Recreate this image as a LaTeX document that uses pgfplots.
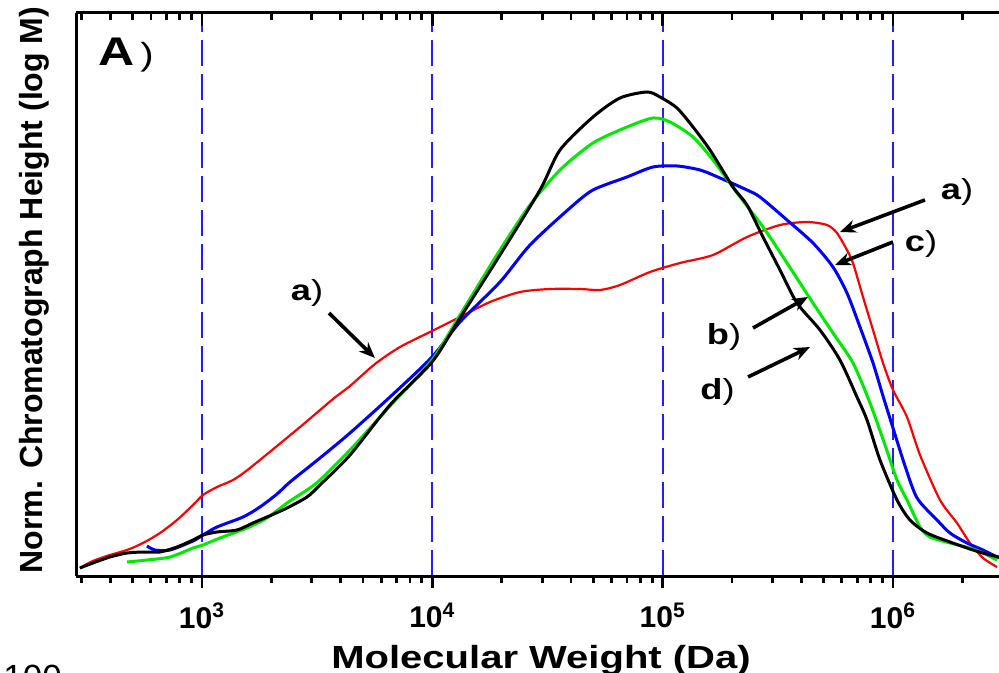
\documentclass[border=0pt]{standalone}
\usepackage{fontspec}
\setmainfont{Liberation Sans}
\newfontfamily\widefont{Liberation Sans}[FakeStretch=1.25]
\usepackage{pgfplots}
\pgfplotsset{compat=1.18}
\usetikzlibrary{arrows.meta}

\definecolor{gridblue}{RGB}{30,30,255}
\definecolor{cred}{RGB}{255,0,0}
\definecolor{cgreen}{RGB}{0,235,0}
\definecolor{cblue}{RGB}{0,0,255}

\tikzset{
  arr/.style={line width=1.8pt, -{Stealth[length=8pt,width=6.5pt]}},
  lab/.style={anchor=base, font=\fontsize{14.5}{17}\widefont},
}

\begin{document}
\begin{tikzpicture}
% bottom axis, labels, curves
\begin{axis}[
    scale only axis, width=461.5pt, height=281.5pt,
    at={(0,0)}, anchor=south west,
    xmode=log, xmin=283.8, xmax=2.886e6, ymin=0, ymax=563,
    axis x line*=bottom, axis y line*=left,
    axis line style={line width=1.5pt,-},
    ytick=\empty,
    xtick={1e3,1e4,1e5,1e6},
    minor xtick={300,400,500,600,700,800,900,
      2000,3000,4000,5000,6000,7000,8000,9000,
      2e4,3e4,4e4,5e4,6e4,7e4,8e4,9e4,
      2e5,3e5,4e5,5e5,6e5,7e5,8e5,9e5,2e6},
    major tick length=6pt, minor tick length=3.5pt,
    tick style={black, line width=1.4pt},
    tick align=outside,
    xticklabels={\textbf{10}\textsuperscript{\textbf{3}},\textbf{10}\textsuperscript{\textbf{4}},
                 \textbf{10}\textsuperscript{\textbf{5}},\textbf{10}\textsuperscript{\textbf{6}}},
    xticklabel style={font=\fontsize{15}{18}\selectfont, yshift=-4pt},
    xmajorgrids,
    major grid style={gridblue, line width=1pt, dash pattern=on 13pt off 4pt},
    xlabel={\bfseries Molecular Weight (Da)},
    xlabel style={font=\fontsize{16}{19}\widefont, at={(axis description cs:0.5038,-0.1634)}, anchor=base},
    ylabel={\bfseries Norm. Chromatograph Height (log M)},
    ylabel style={font=\fontsize{16}{19}\selectfont, at={(axis description cs:-0.0358,0.508)}, anchor=base},
    every axis plot/.append style={no markers, smooth, tension=0.45, line join=round},
  ]
  % a) red
  \addplot[cred, line width=1.1pt] coordinates {
    (295,8) (336,15) (398.6,21) (472.5,26) (554.3,33) (657.3,43) (778.9,56)
    (914,71) (1010,81) (1162,89) (1363,96) (1616,108) (2665,149) (3705,177)
    (4391,190) (5638,212) (7237,229) (9968,245) (13190,259) (17800,274)
    (24030,284) (32430,287) (43770,287) (53460,286) (65290,291) (88110,304)
    (118900,313) (165400,321) (232400,339) (323200,351) (423300,354)
    (516900,351) (571200,343) (631300,326) (670400,313) (741000,279)
    (819000,246) (905000,213) (1.0e6,186) (1.150e6,159) (1.310e6,121)
    (1.600e6,76) (1.896e6,53) (2.159e6,33) (2.459e6,18) (2.829e6,9)
  };
  % c) blue
  \addplot[cblue, line width=1.5pt] coordinates {
    (576.9,30) (625.1,26) (726.3,26) (914,35) (1010,41) (1162,49) (1507,59)
    (1785,69) (2117,82) (2411,94) (3253,118) (4391,143) (6549,179) (9968,219)
    (13190,254) (19670,294) (26550,331) (39600,368) (49830,386) (70010,399)
    (90790,409) (115400,410) (145300,406) (177500,398) (232400,386)
    (264600,379) (346700,356) (449300,333) (548800,309) (631300,283)
    (719000,249) (819000,213) (905000,180) (1.0e6,148) (1.128e6,110)
    (1.272e6,78) (1.553e6,56) (1.768e6,43) (2.095e6,33) (2.459e6,26)
    (2.886e6,18)
  };
  % b) green
  \addplot[cgreen, line width=1.5pt] coordinates {
    (472.5,14) (576.9,16) (726.3,19) (914,28) (1010,31) (1197,38) (1568,48)
    (1915,58) (2339,73) (2857,86) (3253,96) (4391,126) (6549,170) (9968,216)
    (13190,261) (19670,326) (26550,371) (35840,406) (49830,433) (70010,449)
    (90790,458) (107600,454) (135400,439) (165400,416) (210300,383)
    (272700,349) (346700,313) (449300,273) (548800,243) (670400,213)
    (794800,173) (923000,131) (1.041e6,96) (1.150e6,76) (1.310e6,49)
    (1.448e6,39) (1.768e6,33) (2.159e6,28) (2.459e6,23) (2.829e6,16)
  };
  % d) black
  \addplot[black, line width=1.5pt] coordinates {
    (295,8) (336,13) (398.6,19) (472.5,23) (554.3,24) (657.3,24) (778.9,29)
    (914,36) (1010,41) (1162,44) (1419,46) (1664,53) (1915,59) (2339,68)
    (2857,79) (3253,91) (4391,121) (6549,171) (9968,214) (13190,258)
    (19670,321) (29340,386) (35840,426) (49830,459) (65290,478) (85510,484)
    (97380,479) (115400,468) (135400,449) (160500,426) (202000,389)
    (232400,371) (272700,339) (323200,306) (383100,273) (482100,246)
    (588600,216) (697700,179) (771200,156) (878300,116) (1.041e6,76)
    (1.185e6,56) (1.405e6,43) (1.768e6,34) (2.225e6,26) (2.638e6,21)
    (2.886e6,19)
  };

  % annotations
  \node[anchor=base west, inner sep=0pt, font=\fontsize{20}{24}\widefont] at (rel axis cs:0.0238,0.9076)
    {\bfseries A\hspace{3pt}\mdseries\fontsize{16}{19}\selectfont)};
  \node[lab] at (rel axis cs:0.2503,0.4902) {{\bfseries a})};
  \draw[arr] (rel axis cs:0.2741,0.4671) -- (rel axis cs:0.3239,0.3872);
  \node[lab] at (rel axis cs:0.9545,0.6679) {{\bfseries a})};
  \draw[arr] (rel axis cs:0.9198,0.6679) -- (rel axis cs:0.8277,0.6110);
  \node[lab] at (rel axis cs:0.9155,0.5755) {{\bfseries c})};
  \draw[arr] (rel axis cs:0.8852,0.5933) -- (rel axis cs:0.8223,0.5524);
  \node[lab] at (rel axis cs:0.7021,0.4103) {{\bfseries b})};
  \draw[arr] (rel axis cs:0.7335,0.4405) -- (rel axis cs:0.7931,0.4956);
  \node[lab] at (rel axis cs:0.6950,0.3126) {{\bfseries d})};
  \draw[arr] (rel axis cs:0.7281,0.3535) -- (rel axis cs:0.7952,0.4067);
\end{axis}

% top axis line with inward ticks
\begin{axis}[
    scale only axis, width=461.5pt, height=281.5pt,
    at={(0,0)}, anchor=south west,
    xmode=log, xmin=283.8, xmax=2.886e6, ymin=0, ymax=563,
    axis x line*=top, axis y line=none,
    axis line style={line width=1.5pt,-},
    ytick=\empty,
    xtick={1e3,1e4,1e5,1e6},
    minor xtick={300,400,500,600,700,800,900,
      2000,3000,4000,5000,6000,7000,8000,9000,
      2e4,3e4,4e4,5e4,6e4,7e4,8e4,9e4,
      2e5,3e5,4e5,5e5,6e5,7e5,8e5,9e5,2e6},
    major tick length=6.5pt, minor tick length=3.5pt,
    tick style={black, line width=1.4pt},
    tick align=inside,
    xticklabels={},
  ]
  \addplot[draw=none] coordinates {(1e3,1) (1e4,2)};
\end{axis}

\node[anchor=north west, inner sep=0pt, font=\fontsize{17.5}{21}\selectfont] at (-36.5pt,-44.5pt) {100};

\pgfresetboundingbox
\path[use as bounding box] (-38pt,-48.5pt) rectangle (461.5pt,288pt);
\end{tikzpicture}
\end{document}
